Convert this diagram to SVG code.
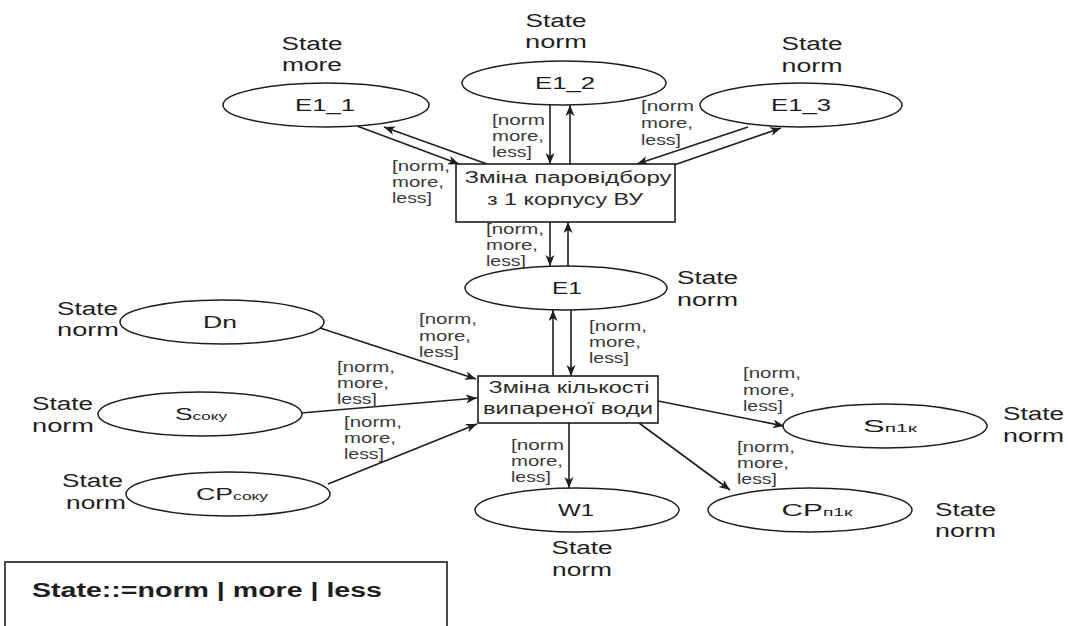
<svg xmlns="http://www.w3.org/2000/svg" width="1068" height="626" viewBox="0 0 1068 626">
<defs>
<marker id="arr" markerUnits="userSpaceOnUse" markerWidth="12" markerHeight="10" refX="11" refY="4.5" orient="auto">
<path d="M0,0 L11,4.5 L0,9 L3,4.5 Z" fill="#1e1e1e"/>
</marker>
<style>
text{font-family:"Liberation Sans",Arial,sans-serif;fill:#1e1e1e}
.lbl{font-size:14px;fill:#3a3a3a}
.st{font-size:18px}
.nd{font-size:17px;text-anchor:middle}
.bx{font-size:16px;text-anchor:middle;fill:#2a2a2a}
.mid{text-anchor:middle}
.sub{font-size:11px}
.el{fill:#fff;stroke:#1e1e1e;stroke-width:1.5}
.box{fill:#fff;stroke:#1e1e1e;stroke-width:1.6}
.cn line{stroke:#1e1e1e;stroke-width:1.6;marker-end:url(#arr)}
.leg{font-size:20px;font-weight:bold}
</style>
</defs>
<rect width="1068" height="626" fill="#fff"/>

<g id="connectors" class="cn">
<line x1="357" y1="126" x2="459" y2="164"/>
<line x1="487" y1="164" x2="384" y2="127"/>
<line x1="570" y1="164" x2="570" y2="105"/>
<line x1="550" y1="105" x2="550" y2="164"/>
<line x1="748" y1="127" x2="637" y2="164"/>
<line x1="674" y1="165" x2="781" y2="128"/>
<line x1="568" y1="266" x2="568" y2="222"/>
<line x1="550" y1="222" x2="550" y2="266"/>
<line x1="553" y1="376" x2="553" y2="310"/>
<line x1="571" y1="310" x2="571" y2="376"/>
<line x1="320" y1="328" x2="476" y2="379"/>
<line x1="301" y1="413" x2="477" y2="398"/>
<line x1="328" y1="484" x2="477" y2="424"/>
<line x1="658" y1="401" x2="784" y2="426"/>
<line x1="569" y1="423" x2="569" y2="488"/>
<line x1="639" y1="423" x2="730" y2="490"/>
</g>

<g id="labels">
<g><text class="lbl" x="392" y="171" textLength="58" lengthAdjust="spacingAndGlyphs">[norm,</text><text class="lbl" x="392" y="187" textLength="52" lengthAdjust="spacingAndGlyphs">more,</text><text class="lbl" x="392" y="203" textLength="40" lengthAdjust="spacingAndGlyphs">less]</text></g>
<g><text class="lbl" x="492" y="125" textLength="53" lengthAdjust="spacingAndGlyphs">[norm</text><text class="lbl" x="492" y="141" textLength="52" lengthAdjust="spacingAndGlyphs">more,</text><text class="lbl" x="492" y="157" textLength="40" lengthAdjust="spacingAndGlyphs">less]</text></g>
<g><text class="lbl" x="641" y="111" textLength="53" lengthAdjust="spacingAndGlyphs">[norm</text><text class="lbl" x="641" y="128" textLength="52" lengthAdjust="spacingAndGlyphs">more,</text><text class="lbl" x="641" y="145" textLength="40" lengthAdjust="spacingAndGlyphs">less]</text></g>
<g><text class="lbl" x="486" y="234" textLength="58" lengthAdjust="spacingAndGlyphs">[norm,</text><text class="lbl" x="486" y="250" textLength="52" lengthAdjust="spacingAndGlyphs">more,</text><text class="lbl" x="486" y="266" textLength="40" lengthAdjust="spacingAndGlyphs">less]</text></g>
<g><text class="lbl" x="419" y="324" textLength="58" lengthAdjust="spacingAndGlyphs">[norm,</text><text class="lbl" x="419" y="341" textLength="52" lengthAdjust="spacingAndGlyphs">more,</text><text class="lbl" x="419" y="357" textLength="40" lengthAdjust="spacingAndGlyphs">less]</text></g>
<g><text class="lbl" x="589" y="331" textLength="58" lengthAdjust="spacingAndGlyphs">[norm,</text><text class="lbl" x="589" y="347" textLength="52" lengthAdjust="spacingAndGlyphs">more,</text><text class="lbl" x="589" y="363" textLength="40" lengthAdjust="spacingAndGlyphs">less]</text></g>
<g><text class="lbl" x="337" y="372" textLength="58" lengthAdjust="spacingAndGlyphs">[norm,</text><text class="lbl" x="337" y="388" textLength="52" lengthAdjust="spacingAndGlyphs">more,</text><text class="lbl" x="337" y="404" textLength="40" lengthAdjust="spacingAndGlyphs">less]</text></g>
<g><text class="lbl" x="344" y="427" textLength="58" lengthAdjust="spacingAndGlyphs">[norm,</text><text class="lbl" x="344" y="443" textLength="52" lengthAdjust="spacingAndGlyphs">more,</text><text class="lbl" x="344" y="459" textLength="40" lengthAdjust="spacingAndGlyphs">less]</text></g>
<g><text class="lbl" x="743" y="378" textLength="58" lengthAdjust="spacingAndGlyphs">[norm,</text><text class="lbl" x="743" y="395" textLength="52" lengthAdjust="spacingAndGlyphs">more,</text><text class="lbl" x="743" y="411" textLength="40" lengthAdjust="spacingAndGlyphs">less]</text></g>
<g><text class="lbl" x="511" y="450" textLength="53" lengthAdjust="spacingAndGlyphs">[norm</text><text class="lbl" x="511" y="466" textLength="52" lengthAdjust="spacingAndGlyphs">more,</text><text class="lbl" x="511" y="482" textLength="40" lengthAdjust="spacingAndGlyphs">less]</text></g>
<g><text class="lbl" x="737" y="452" textLength="58" lengthAdjust="spacingAndGlyphs">[norm,</text><text class="lbl" x="737" y="468" textLength="52" lengthAdjust="spacingAndGlyphs">more,</text><text class="lbl" x="737" y="484" textLength="40" lengthAdjust="spacingAndGlyphs">less]</text></g>
</g>

<g id="node-box1">
<rect class="box" x="456" y="164" width="219" height="58"/>
<text class="bx" x="568" y="183" textLength="207" lengthAdjust="spacingAndGlyphs">Зміна паровідбору</text>
<text class="bx" x="565" y="205" textLength="156" lengthAdjust="spacingAndGlyphs">з 1 корпусу ВУ</text>
</g>

<g id="node-box2">
<rect class="box" x="478" y="376" width="180" height="47"/>
<text class="bx" x="569" y="393" textLength="161" lengthAdjust="spacingAndGlyphs">Зміна кількості</text>
<text class="bx" x="568" y="414" textLength="170" lengthAdjust="spacingAndGlyphs">випареної води</text>
</g>

<g id="node-E1_1">
<ellipse class="el" cx="326" cy="105" rx="103" ry="22"/>
<text class="nd" x="325" y="111" textLength="60" lengthAdjust="spacingAndGlyphs">E1_1</text>
<text class="st mid" x="312" y="50" textLength="61" lengthAdjust="spacingAndGlyphs">State</text>
<text class="st mid" x="312" y="71" textLength="60" lengthAdjust="spacingAndGlyphs">more</text>
</g>

<g id="node-E1_2">
<ellipse class="el" cx="564" cy="83" rx="102" ry="22"/>
<text class="nd" x="565" y="89" textLength="60" lengthAdjust="spacingAndGlyphs">E1_2</text>
<text class="st mid" x="556" y="27" textLength="61" lengthAdjust="spacingAndGlyphs">State</text>
<text class="st mid" x="556" y="48" textLength="62" lengthAdjust="spacingAndGlyphs">norm</text>
</g>

<g id="node-E1_3">
<ellipse class="el" cx="801" cy="105" rx="101" ry="22"/>
<text class="nd" x="801" y="111" textLength="60" lengthAdjust="spacingAndGlyphs">E1_3</text>
<text class="st mid" x="812" y="50" textLength="61" lengthAdjust="spacingAndGlyphs">State</text>
<text class="st mid" x="812" y="72" textLength="61" lengthAdjust="spacingAndGlyphs">norm</text>
</g>

<g id="node-E1">
<ellipse class="el" cx="566" cy="288" rx="101" ry="22"/>
<text class="nd" x="567" y="294" textLength="30" lengthAdjust="spacingAndGlyphs">E1</text>
<text class="st" x="677" y="284" textLength="61" lengthAdjust="spacingAndGlyphs">State</text>
<text class="st" x="677" y="306" textLength="61" lengthAdjust="spacingAndGlyphs">norm</text>
</g>

<g id="node-Dn">
<ellipse class="el" cx="222" cy="322" rx="102" ry="22"/>
<text class="nd" x="220" y="328" textLength="34" lengthAdjust="spacingAndGlyphs">Dn</text>
<text class="st" x="57" y="315" textLength="61" lengthAdjust="spacingAndGlyphs">State</text>
<text class="st" x="57" y="336" textLength="62" lengthAdjust="spacingAndGlyphs">norm</text>
</g>

<g id="node-Ssoku">
<ellipse class="el" cx="200" cy="414" rx="102" ry="22"/>
<text class="nd" x="201" y="420" textLength="52" lengthAdjust="spacingAndGlyphs">S<tspan class="sub">соку</tspan></text>
<text class="st" x="32" y="410" textLength="61" lengthAdjust="spacingAndGlyphs">State</text>
<text class="st" x="32" y="432" textLength="62" lengthAdjust="spacingAndGlyphs">norm</text>
</g>

<g id="node-CPsoku">
<ellipse class="el" cx="228" cy="494" rx="102" ry="22"/>
<text class="nd" x="232" y="500" textLength="72" lengthAdjust="spacingAndGlyphs">CP<tspan class="sub">соку</tspan></text>
<text class="st" x="62" y="487" textLength="61" lengthAdjust="spacingAndGlyphs">State</text>
<text class="st" x="66" y="509" textLength="60" lengthAdjust="spacingAndGlyphs">norm</text>
</g>

<g id="node-W1">
<ellipse class="el" cx="577" cy="510" rx="102" ry="22"/>
<text class="nd" x="576" y="516" textLength="36" lengthAdjust="spacingAndGlyphs">W1</text>
<text class="st mid" x="582" y="554" textLength="61" lengthAdjust="spacingAndGlyphs">State</text>
<text class="st mid" x="582" y="576" textLength="60" lengthAdjust="spacingAndGlyphs">norm</text>
</g>

<g id="node-Sp1k">
<ellipse class="el" cx="885" cy="426" rx="102" ry="22"/>
<text class="nd" x="890" y="432" textLength="54" lengthAdjust="spacingAndGlyphs">S<tspan class="sub">п1к</tspan></text>
<text class="st" x="1003" y="420" textLength="61" lengthAdjust="spacingAndGlyphs">State</text>
<text class="st" x="1003" y="442" textLength="61" lengthAdjust="spacingAndGlyphs">norm</text>
</g>

<g id="node-CPp1k">
<ellipse class="el" cx="810" cy="510" rx="102" ry="22"/>
<text class="nd" x="817" y="516" textLength="71" lengthAdjust="spacingAndGlyphs">CP<tspan class="sub">п1к</tspan></text>
<text class="st" x="935" y="516" textLength="61" lengthAdjust="spacingAndGlyphs">State</text>
<text class="st" x="935" y="537" textLength="61" lengthAdjust="spacingAndGlyphs">norm</text>
</g>

<g id="legend">
<rect x="5" y="562" width="442" height="80" fill="#fff" stroke="#1e1e1e" stroke-width="1.6"/>
<text class="leg" x="32" y="597" textLength="350" lengthAdjust="spacingAndGlyphs">State::=norm | more | less</text>
</g>
</svg>
